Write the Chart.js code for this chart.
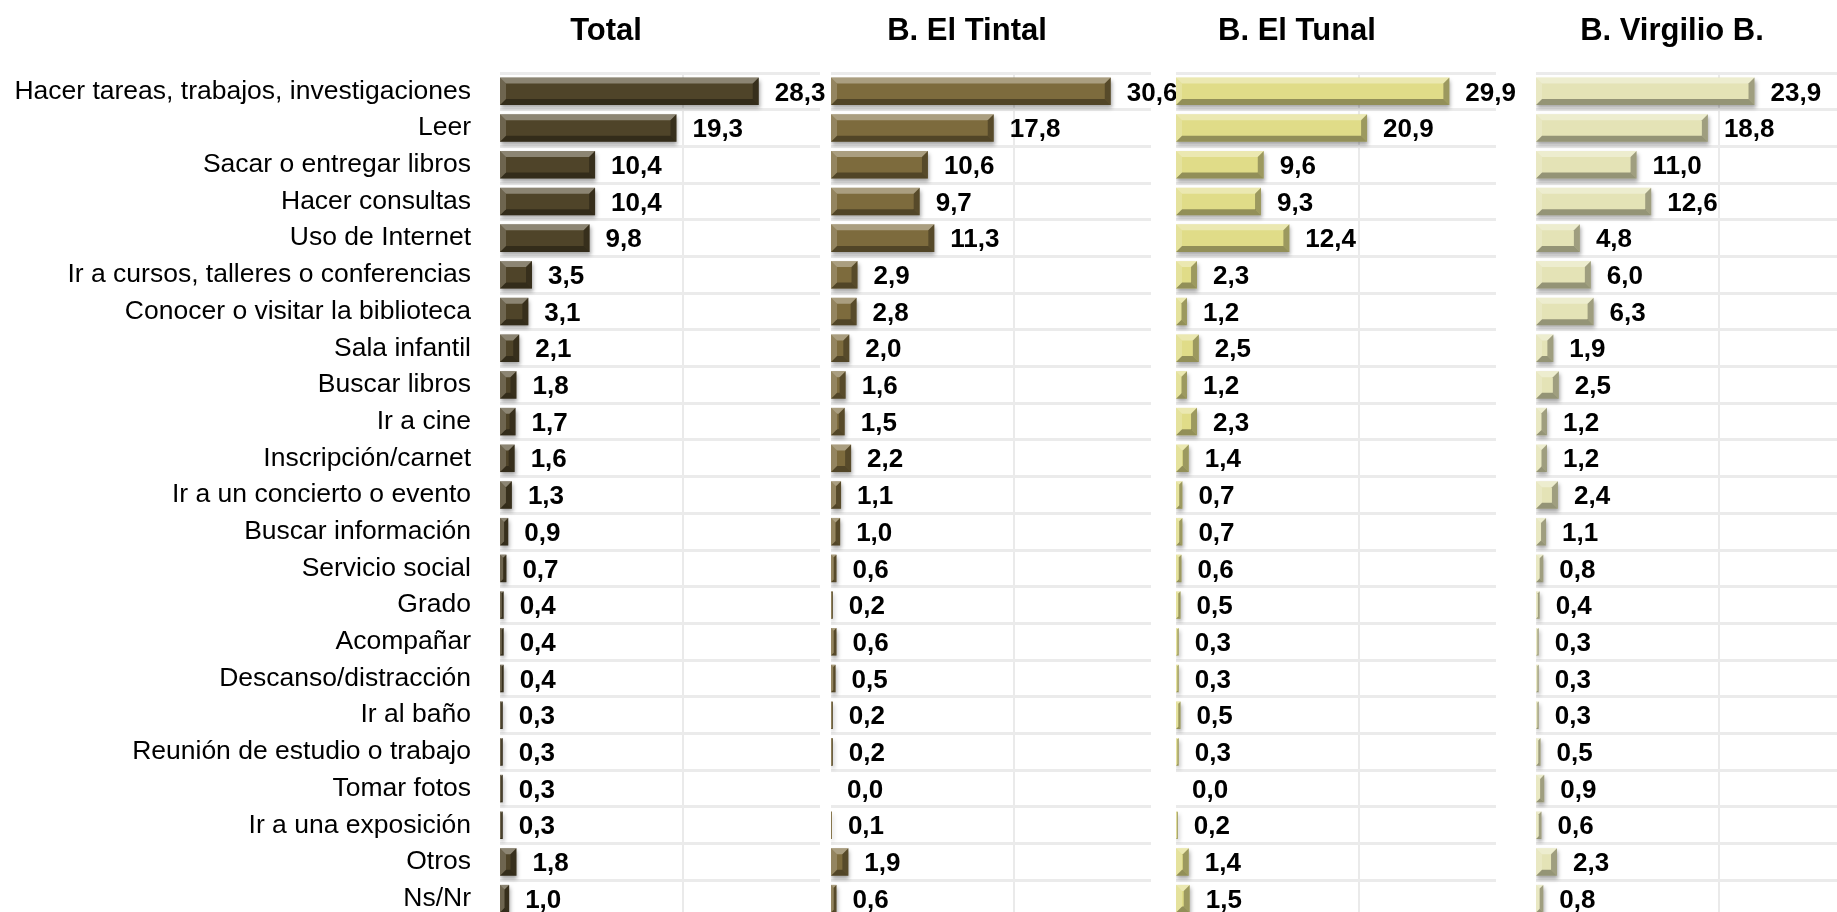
<!DOCTYPE html>
<html lang="es">
<head>
<meta charset="utf-8">
<title>Motivos de visita a la biblioteca</title>
<script src="https://cdn.jsdelivr.net/npm/chart.js@4.4.1/dist/chart.umd.min.js"></script>
<style>
    html, body { margin: 0; padding: 0; background: #fff; overflow: hidden; }
    #board { position: relative; width: 1837px; height: 912px; overflow: hidden; }
    #board canvas { position: absolute; top: 0; }
</style>
</head>
<body>
<div id="board">
    <canvas id="chartTotal"></canvas>
    <canvas id="chartTintal"></canvas>
    <canvas id="chartTunal"></canvas>
    <canvas id="chartVirgilio"></canvas>
</div>
<script>
// Data
const categories = [
    'Hacer tareas, trabajos, investigaciones',
    'Leer',
    'Sacar o entregar libros',
    'Hacer consultas',
    'Uso de Internet',
    'Ir a cursos, talleres o conferencias',
    'Conocer o visitar la biblioteca',
    'Sala infantil',
    'Buscar libros',
    'Ir a cine',
    'Inscripción/carnet',
    'Ir a un concierto o evento',
    'Buscar información',
    'Servicio social',
    'Grado',
    'Acompañar',
    'Descanso/distracción',
    'Ir al baño',
    'Reunión de estudio o trabajo',
    'Tomar fotos',
    'Ir a una exposición',
    'Otros',
    'Ns/Nr'
];
const totalValues    = [28.3, 19.3, 10.4, 10.4, 9.8, 3.5, 3.1, 2.1, 1.8, 1.7, 1.6, 1.3, 0.9, 0.7, 0.4, 0.4, 0.4, 0.3, 0.3, 0.3, 0.3, 1.8, 1.0];
const tintalValues   = [30.6, 17.8, 10.6, 9.7, 11.3, 2.9, 2.8, 2.0, 1.6, 1.5, 2.2, 1.1, 1.0, 0.6, 0.2, 0.6, 0.5, 0.2, 0.2, 0.0, 0.1, 1.9, 0.6];
const tunalValues    = [29.9, 20.9, 9.6, 9.3, 12.4, 2.3, 1.2, 2.5, 1.2, 2.3, 1.4, 0.7, 0.7, 0.6, 0.5, 0.3, 0.3, 0.5, 0.3, 0.0, 0.2, 1.4, 1.5];
const virgilioValues = [23.9, 18.8, 11.0, 12.6, 4.8, 6.0, 6.3, 1.9, 2.5, 1.2, 1.2, 2.4, 1.1, 0.8, 0.4, 0.3, 0.3, 0.3, 0.5, 0.9, 0.6, 2.3, 0.8];
const panelTitles = ['Total', 'B. El Tintal', 'B. El Tunal', 'B. Virgilio B.'];
const axisMax = 35;
const gridTicks = [20];

// Layout
const FONT = '"Liberation Sans", Arial, Helvetica, sans-serif';
const PLOT_W = 320;
const PLOT_TOP = 73;
const CANVAS_H = 917;
const LABEL_ROOM = 60;

const panels = [
    { id: 'chartTotal',    values: totalValues,    color: '#4f4429', plotLeft: 500,  axisW: 500, titleOffset: 106 },
    { id: 'chartTintal',   values: tintalValues,   color: '#7d6b3d', plotLeft: 831,  axisW: 0,   titleOffset: 136 },
    { id: 'chartTunal',    values: tunalValues,    color: '#e0dc88', plotLeft: 1176, axisW: 0,   titleOffset: 121 },
    { id: 'chartVirgilio', values: virgilioValues, color: '#e4e3b6', plotLeft: 1536, axisW: 0,   titleOffset: 136 }
];

const formatValue = v => v.toFixed(1).replace('.', ',');

function fillPoly(ctx, pts, color) {
    ctx.beginPath();
    ctx.moveTo(pts[0][0], pts[0][1]);
    for (let i = 1; i < pts.length; i++) ctx.lineTo(pts[i][0], pts[i][1]);
    ctx.closePath();
    ctx.fillStyle = color;
    ctx.fill();
}

// Bevel + shadow on the bars, value labels after each bar
const bevelPlugin = {
    id: 'bevel',
    beforeDatasetsDraw(chart) {
        const ctx = chart.ctx;
        ctx.save();
        ctx.shadowColor = 'rgba(0, 0, 0, 0.35)';
        ctx.shadowBlur = 4;
        ctx.shadowOffsetX = 1;
        ctx.shadowOffsetY = 3;
    },
    afterDatasetsDraw(chart) {
        const ctx = chart.ctx;
        ctx.restore();

        const values = chart.data.datasets[0].data;
        chart.getDatasetMeta(0).data.forEach((bar, i) => {
            const { x, y, base, height } = bar.getProps(['x', 'y', 'base', 'height'], true);
            const l = Math.min(x, base);
            const r = Math.max(x, base);
            const t = y - height / 2;
            const b = y + height / 2;
            const d = Math.min(6, (r - l) / 2, height / 2);

            if (r - l >= 1) {
                fillPoly(ctx, [[l, t], [r, t], [r - d, t + d], [l + d, t + d]], 'rgba(255,255,255,0.35)');
                fillPoly(ctx, [[l, b], [r, b], [r - d, b - d], [l + d, b - d]], 'rgba(0,0,0,0.35)');
                fillPoly(ctx, [[l, t], [l + d, t + d], [l + d, b - d], [l, b]], 'rgba(255,255,255,0.18)');
                fillPoly(ctx, [[r, t], [r - d, t + d], [r - d, b - d], [r, b]], 'rgba(0,0,0,0.3)');
            }

            ctx.save();
            ctx.font = `bold 26px ${FONT}`;
            ctx.fillStyle = '#000';
            ctx.textAlign = 'left';
            ctx.textBaseline = 'middle';
            ctx.fillText(formatValue(values[i]), r + 16, y + 2);
            ctx.restore();
        });
    }
};

// Panel heading
const headerPlugin = {
    id: 'header',
    afterDraw(chart, args, opts) {
        const { ctx, chartArea } = chart;
        ctx.save();
        ctx.font = `bold 31px ${FONT}`;
        ctx.fillStyle = '#000';
        ctx.textAlign = 'center';
        ctx.textBaseline = 'middle';
        ctx.fillText(opts.text, chartArea.left + opts.offset, 31);
        ctx.restore();
    }
};

function buildPanel(panel, index) {
    const canvas = document.getElementById(panel.id);
    canvas.width = panel.axisW + PLOT_W + LABEL_ROOM;
    canvas.height = CANVAS_H;
    canvas.style.left = (panel.plotLeft - panel.axisW) + 'px';

    return new Chart(canvas, {
        type: 'bar',
        data: {
            labels: categories,
            datasets: [{
                data: panel.values,
                backgroundColor: panel.color,
                borderWidth: 0,
                barPercentage: 0.75,
                categoryPercentage: 1
            }]
        },
        options: {
            indexAxis: 'y',
            responsive: false,
            animation: false,
            layout: { padding: { top: PLOT_TOP, right: LABEL_ROOM, bottom: 0, left: 0 } },
            plugins: {
                legend: { display: false },
                tooltip: { enabled: false },
                title: { display: false },
                header: { text: panelTitles[index], offset: panel.titleOffset }
            },
            scales: {
                x: {
                    min: 0,
                    max: axisMax,
                    afterBuildTicks: scale => { scale.ticks = gridTicks.map(v => ({ value: v })); },
                    ticks: { display: false },
                    border: { display: false },
                    grid: { color: '#eaeaea', lineWidth: 2, drawTicks: false }
                },
                y: {
                    // fixed gutter for the category names, no extra padding above/below
                    afterFit: scale => {
                        scale.width = panel.axisW;
                        scale.paddingTop = 0;
                        scale.paddingBottom = 0;
                    },
                    ticks: {
                        display: index === 0,
                        autoSkip: false,
                        padding: 29,
                        color: '#000',
                        font: { family: FONT, size: 26.5 }
                    },
                    border: { display: false },
                    grid: { color: '#ebebeb', lineWidth: 3, drawTicks: false }
                }
            }
        },
        plugins: [bevelPlugin, headerPlugin]
    });
}

panels.forEach(buildPanel);
</script>
</body>
</html>
